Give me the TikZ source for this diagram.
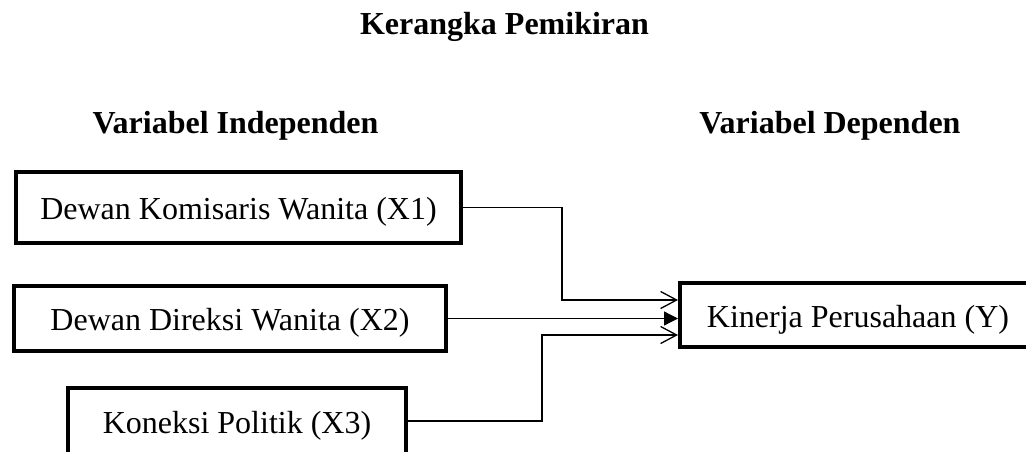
\documentclass[tikz,border=0pt]{standalone}
\usepackage{fontspec}
\setmainfont{Liberation Serif}
\usetikzlibrary{arrows.meta,calc}
\begin{document}
\begin{tikzpicture}[x={(1pt,0)},y={(0,-1pt)},
  varbox/.style={draw,line width=4pt,inner sep=0pt,
    text height=24pt,text depth=0pt,
    font=\fontsize{32}{37}\selectfont},
  heading/.style={anchor=base,inner sep=0pt,
    font=\fontsize{32}{37}\selectfont\bfseries},
  link/.style={line width=1.3pt},
  barb/.style={link,-{Straight Barb[length=16pt,width=17pt,line width=1.3pt]}},
  solidtip/.style={link,-{Triangle[length=14pt,width=14pt]}}]
  \useasboundingbox (0,0) rectangle (1026,451);
  \clip (0,0) rectangle (1026,451);

  % headings
  \node[heading] (title) at (504.5,34) {Kerangka Pemikiran};
  \node[heading] (indep) at (235.5,133) {Variabel Independen};
  \node[heading] (dep) at (830,133) {Variabel Dependen};

  % independent variables
  \node[varbox,minimum width=445pt,minimum height=71pt] (x1) at (238.5,207.5)
    {Dewan Komisaris Wanita (X1)};
  \node[varbox,minimum width=432pt,minimum height=65pt] (x2) at (230,318.5)
    {Dewan Direksi Wanita (X2)};
  \node[varbox,minimum width=338pt,minimum height=66pt] (x3) at (237,421)
    {Koneksi Politik (X3)};

  % dependent variable, running past the right edge
  \node[varbox,anchor=west,minimum width=356pt,minimum height=64pt] (y) at (678,315)
    {Kinerja Perusahaan (Y)};

  % elbow points of the connectors
  \coordinate (k1) at (562,300);
  \coordinate (k3) at (542,335);

  \draw[barb] (x1.east) -| (k1) -- (k1 -| y.west);
  \draw[solidtip] (x2.east) -- (x2.east -| y.west);
  \draw[barb] (x3.east) -| (k3) -- (k3 -| y.west);
\end{tikzpicture}
\end{document}
